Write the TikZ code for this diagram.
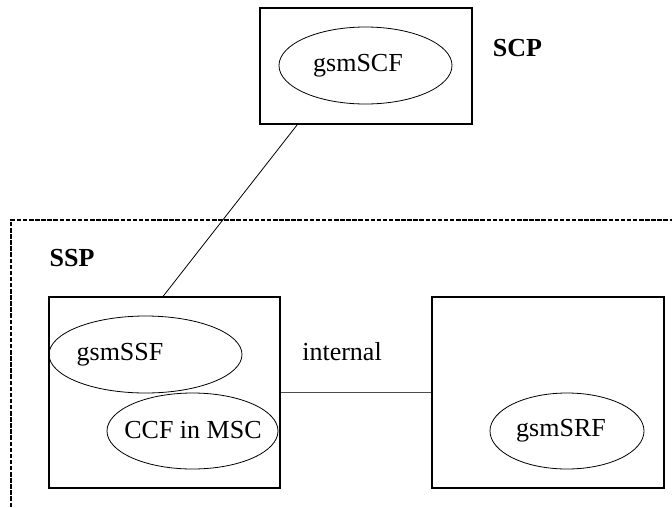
\documentclass[tikz,border=0pt]{standalone}
\usepackage{fontspec}
\setmainfont{Liberation Serif}
\usetikzlibrary{shapes.geometric,calc}
\begin{document}
\begin{tikzpicture}[x=1pt,y=-1pt,
  box/.style={draw, line width=1.6pt, rectangle, inner sep=0pt},
  func/.style={draw, line width=0.8pt, ellipse, inner sep=0pt},
  lbl/.style={font=\fontsize{26}{30}\selectfont, inner sep=0pt},
  blbl/.style={font=\fontsize{26}{30}\selectfont\bfseries, inner sep=0pt},
  conn/.style={line width=0.8pt},
  region/.style={line width=2pt, dash pattern=on 4.5pt off 1.6pt}]
\useasboundingbox (0,0) rectangle (672,507);
% SCP
\node[box, minimum width=212pt, minimum height=116pt] (scp) at (366,66) {};
\node[func, minimum width=173pt, minimum height=77pt] (scf) at (365.5,65.5) {};
\node[lbl] (scftxt) at (358,66) {gsmSCF};
\node[blbl] (scplbl) at (517.5,48) {SCP};
% SSP region
\coordinate (rb) at (11,507);
\coordinate (rc) at (11,220);
\coordinate (re) at (672,220);
\draw[region] (rb) -- (rc) -- (re);
\node[blbl] (ssplbl) at (72,258) {SSP};
% SSP boxes
\node[box, minimum width=231pt, minimum height=191pt] (sspbox) at (164.5,392.5) {};
\node[func, minimum width=193pt, minimum height=77pt] (ssf) at (145.5,354.5) {};
\node[lbl] (ssftxt) at (120,355) {gsmSSF};
\node[func, minimum width=171pt, minimum height=76pt] (ccf) at (192.5,431) {};
\node[lbl] (ccftxt) at (193,430) {CCF in MSC};
\node[box, minimum width=232pt, minimum height=191pt] (srfbox) at (548,392.5) {};
\node[func, minimum width=154pt, minimum height=76pt] (srf) at (567,431) {};
\node[lbl] (srftxt) at (561,431) {gsmSRF};
% connectors
\coordinate (scpfoot) at ($(scp.south west)+(38,0)$);
\coordinate (ssptop) at ($(sspbox.north west)+(115,0)$);
\draw[conn] (scpfoot) -- (ssptop);
\draw[line width=1pt, black!70] (sspbox.east) -- (srfbox.west);
\node[lbl] (intlbl) at (342,352) {internal};
\end{tikzpicture}
\end{document}
